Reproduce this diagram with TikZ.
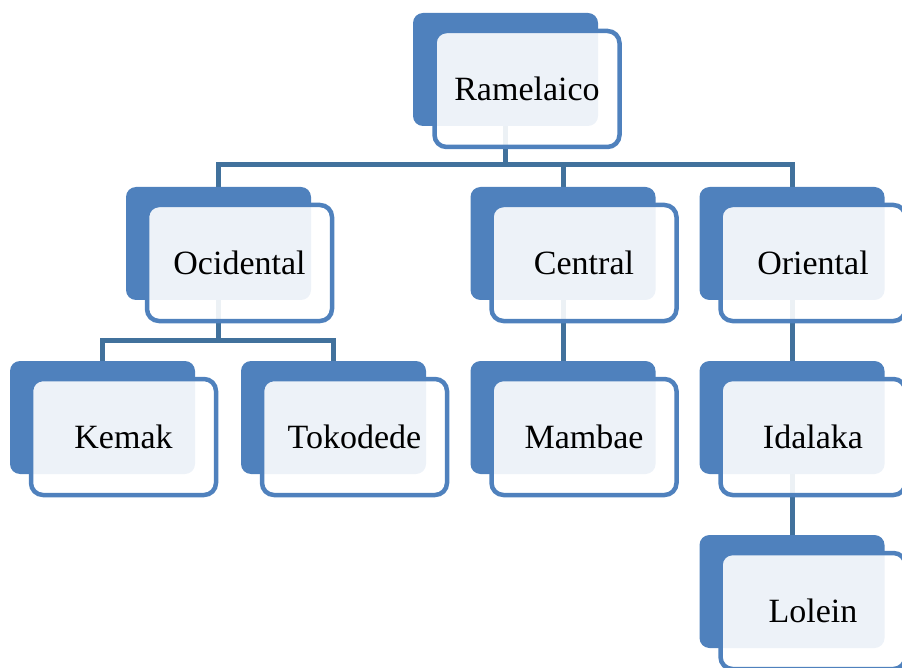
\documentclass[tikz,border=0pt]{standalone}
\usepackage{fontspec}
\setmainfont{Liberation Serif}
\usetikzlibrary{backgrounds}
\definecolor{boxblue}{HTML}{4F81BD}
\definecolor{lineblue}{HTML}{41719C}
\begin{document}
\begin{tikzpicture}[x=1pt, y=-1pt,
    back/.style={fill=boxblue, rounded corners=10pt, minimum width=185pt, minimum height=113pt, inner sep=0pt},
    front/.style={draw=boxblue, line width=4.5pt, fill=white, fill opacity=0.9, text opacity=1,
      rounded corners=12pt, minimum width=185pt, minimum height=116pt, inner sep=0pt,
      font=\fontsize{34}{40}\selectfont},
    link/.style={draw=lineblue, line width=5pt}]
  \clip (0,0) rectangle (902,668);

  % Root
  \node[back] (ram) at (505.5,69.5) {};
  \node[front] (ramT) at (527,89) {Ramelaico};

  % Level 1
  \node[back] (oci) at (218.5,243.5) {};
  \node[front] (ociT) at (239.5,263) {Ocidental};
  \node[back] (cen) at (563,243.5) {};
  \node[front] (cenT) at (584,263) {Central};
  \node[back] (ori) at (792,243.5) {};
  \node[front] (oriT) at (813,263) {Oriental};

  % Level 2
  \node[back] (kem) at (102.5,417.5) {};
  \node[front] (kemT) at (123.5,437) {Kemak};
  \node[back] (tok) at (333.5,417.5) {};
  \node[front] (tokT) at (354.5,437) {Tokodede};
  \node[back] (mam) at (563,417.5) {};
  \node[front] (mamT) at (584,437) {Mambae};
  \node[back] (ida) at (792,417.5) {};
  \node[front] (idaT) at (813,437) {Idalaka};

  % Level 3
  \node[back] (lol) at (792,591.5) {};
  \node[front] (lolT) at (813,611) {Lolein};

  % Connectors (behind the boxes)
  \coordinate (bar1) at (0,164.5);
  \coordinate (bar2) at (0,340);
  \begin{scope}[on background layer]
    \draw[link] (ram.center) -- (ram.center |- bar1) -| (oci.center);
    \draw[link] (ram.center |- bar1) -| (cen.center);
    \draw[link] (ram.center |- bar1) -| (ori.center);
    \draw[link] (oci.center) -- (oci.center |- bar2) -| (kem.center);
    \draw[link] (oci.center |- bar2) -| (tok.center);
    \draw[link] (cen.center) -- (mam.center);
    \draw[link] (ori.center) -- (ida.center);
    \draw[link] (ida.center) -- (lol.center);
  \end{scope}
\end{tikzpicture}
\end{document}
